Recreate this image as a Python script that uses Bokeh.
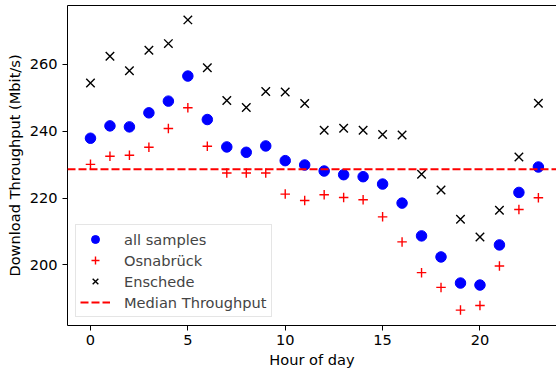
from bokeh.plotting import figure
from bokeh.models import Span, Legend, LegendItem, Range1d, FixedTicker, LinearAxis
from bokeh.embed import file_html
from bokeh.resources import INLINE

hours = list(range(24))
all_samples = [237.9, 241.6, 241.3, 245.5, 249.0, 256.5, 243.5, 235.3, 233.7, 235.6,
               231.2, 229.9, 228.1, 227.0, 226.4, 224.2, 218.5, 208.7, 202.4, 194.6,
               194.0, 206.0, 221.7, 229.3]
osnabrueck = [230.1, 232.5, 232.8, 235.2, 240.8, 247.0, 235.5, 227.5, 227.5, 227.5,
              221.2, 219.3, 221.0, 220.2, 219.5, 214.4, 206.9, 197.7, 193.3, 186.5,
              187.9, 199.7, 216.6, 220.1]
enschede = [254.4, 262.4, 258.1, 264.2, 266.2, 273.3, 259.0, 249.2, 247.1, 251.9,
            251.7, 248.3, 240.3, 240.9, 240.3, 239.0, 238.9, 227.1, 222.4, 213.7,
            208.4, 216.4, 232.3, 248.4]
median_throughput = 228.6
x_ticks = [0, 5, 10, 15, 20]
y_ticks = [200, 220, 240, 260]

FONT = "DejaVu Sans"
FS = "14.6px"

p = figure(width=556, height=375, output_backend="svg", toolbar_location=None,
           x_range=Range1d(-1.18, 23.93), y_range=Range1d(181.9, 277.6),
           min_border_left=67, min_border_right=0, min_border_top=5, min_border_bottom=50)
p.grid.visible = False
p.outline_line_color = None

r_all = p.scatter(hours, all_samples, marker="circle", size=10.5, color="#0000ff")
r_osn = p.scatter(hours, osnabrueck, marker="cross", size=9.5, line_color="#ff0000", line_width=1.4)
r_ens = p.scatter(hours, enschede, marker="x", size=12, line_color="black", line_width=1.4)
p.add_layout(Span(location=median_throughput, dimension="width", line_color="#ff0000",
                  line_dash="8 3", line_width=2))
r_med = p.line(x=[0, 1], y=[float("nan"), float("nan")], line_color="#ff0000",
               line_dash="8 3", line_width=2)

xb = p.below[0]
yl = p.left[0]
for ax in (xb, yl):
    ax.major_label_text_font = FONT
    ax.major_label_text_font_size = FS
    ax.major_label_text_color = "black"
    ax.axis_label_text_font = FONT
    ax.axis_label_text_font_size = FS
    ax.axis_label_text_font_style = "normal"
    ax.axis_label_text_color = "black"
    ax.major_tick_in = 0
    ax.major_tick_out = 5
    ax.minor_tick_line_color = None
    ax.axis_line_color = "black"
    ax.major_tick_line_color = "black"

xb.ticker = FixedTicker(ticks=x_ticks)
yl.ticker = FixedTicker(ticks=y_ticks)
xb.axis_label = "Hour of day"
yl.axis_label = "Download Throughput (Mbit/s)"
xb.major_label_standoff = 4
yl.major_label_standoff = 5
xb.axis_label_standoff = 3
yl.axis_label_standoff = 4

top_axis = LinearAxis(ticker=FixedTicker(ticks=[]), major_tick_out=0, major_tick_in=0,
                      minor_tick_out=0, minor_tick_in=0, major_label_text_font_size="0px",
                      major_label_standoff=0, axis_label_standoff=0,
                      axis_line_color="black", minor_tick_line_color=None,
                      major_tick_line_color=None)
p.add_layout(top_axis, "above")

legend = Legend(items=[
    LegendItem(label="all samples", renderers=[r_all]),
    LegendItem(label="Osnabrück", renderers=[r_osn]),
    LegendItem(label="Enschede", renderers=[r_ens]),
    LegendItem(label="Median Throughput", renderers=[r_med]),
], location=(8, 8))
legend.label_text_font = FONT
legend.label_text_font_size = FS
legend.label_height = 20
legend.glyph_height = 20
legend.glyph_width = 30
legend.spacing = 1
legend.padding = 4
legend.margin = 0
legend.label_standoff = 14
legend.border_line_color = "#cccccc"
legend.background_fill_alpha = 0.8
p.add_layout(legend)

open("out.html", "w").write(file_html(p, INLINE))
